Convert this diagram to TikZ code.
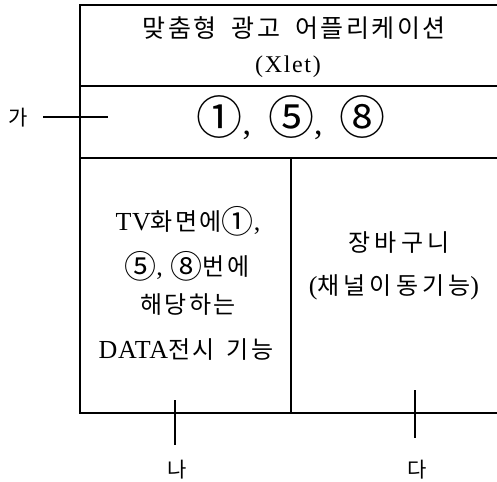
\documentclass[tikz,border=0pt]{standalone}
\usepackage{fontspec}
\setmainfont{Liberation Serif}
\newfontfamily\krfont[LetterSpace=10]{Noto Sans CJK KR}
\newfontfamily\krwide[LetterSpace=17]{Noto Sans CJK KR}
\newfontfamily\krlab{Noto Sans CJK KR}
\newcommand{\kr}[1]{{\krfont #1}}
\newcommand{\krw}[1]{{\krwide #1}}
\newcommand{\cs}[1]{\raisebox{-3pt}{\fontsize{32}{32}\selectfont\krlab #1}}
\newcommand{\lat}[1]{{\fontsize{26}{30}\selectfont\addfontfeature{LetterSpace=3}#1}}
\tikzset{
  frame/.style={line width=1.3pt, line cap=rect},
  tick/.style={line width=1.1pt},
  txt/.style={inner sep=0pt, anchor=base, font=\fontsize{24}{44}\selectfont},
  lab/.style={inner sep=0pt, font=\fontsize{21}{22}\selectfont\krlab},
}
\begin{document}
\begin{tikzpicture}[x=1pt,y=-1pt]
\useasboundingbox (0,0) rectangle (497,481);
% frame
\draw[frame] (497,5) -- (80,5) -- (80,413) -- (497,413);
\draw[frame] (80,86) -- (497,86);
\draw[frame] (80,158) -- (497,158);
\draw[frame] (291,158) -- (291,413);
% title
\node[txt, font=\fontsize{25}{30}\selectfont] (title) at (294,38)
  {\kr{맞춤형\hspace{15pt}광고\hspace{15pt}어플리케이션}};
\node[txt, font=\fontsize{24}{30}\selectfont] (xlet) at (288,73)
  {\addfontfeature{LetterSpace=7}(Xlet)};
% numbers band
\node[txt, font=\fontsize{34}{40}\selectfont] (nums) at (291,135)
  {{\fontsize{46}{46}\selectfont\krlab ①},\hspace{17pt}{\fontsize{46}{46}\selectfont\krlab ⑤},\hspace{17pt}{\fontsize{46}{46}\selectfont\krlab ⑧}};
% left box
\node[txt] (l1) at (188,230) {\lat{TV}\kr{화면에}\cs{①}\lat{,}};
\node[txt] (l2) at (187,275) {\cs{⑤}\lat{,}\hspace{8pt}\cs{⑧}\kr{번에}};
\node[txt] (l3) at (188,313) {\kr{해당하는}};
\node[txt] (l4) at (186,358) {\lat{DATA}\kr{전시\hspace{12pt}기능}};
% right box
\node[txt] (r1) at (399,251) {\krw{장바구니}};
\node[txt] (r2) at (394,294)
  {\lat{(}\krw{채널이동기능}\lat{)}};
% labels
\node[lab] (ga) at (18,118) {가};
\node[lab] (na) at (177,470) {나};
\node[lab] (da) at (417,470) {다};
\coordinate (gaS) at (43,117);
\coordinate (gaE) at (108,117);
\coordinate (naT) at (175,400);
\coordinate (naB) at (175,445);
\coordinate (daT) at (415,390);
\coordinate (daB) at (415,438);
\draw[tick] (gaS) -- (gaE);
\draw[tick] (naT) -- (naB);
\draw[tick] (daT) -- (daB);
\end{tikzpicture}
\end{document}
